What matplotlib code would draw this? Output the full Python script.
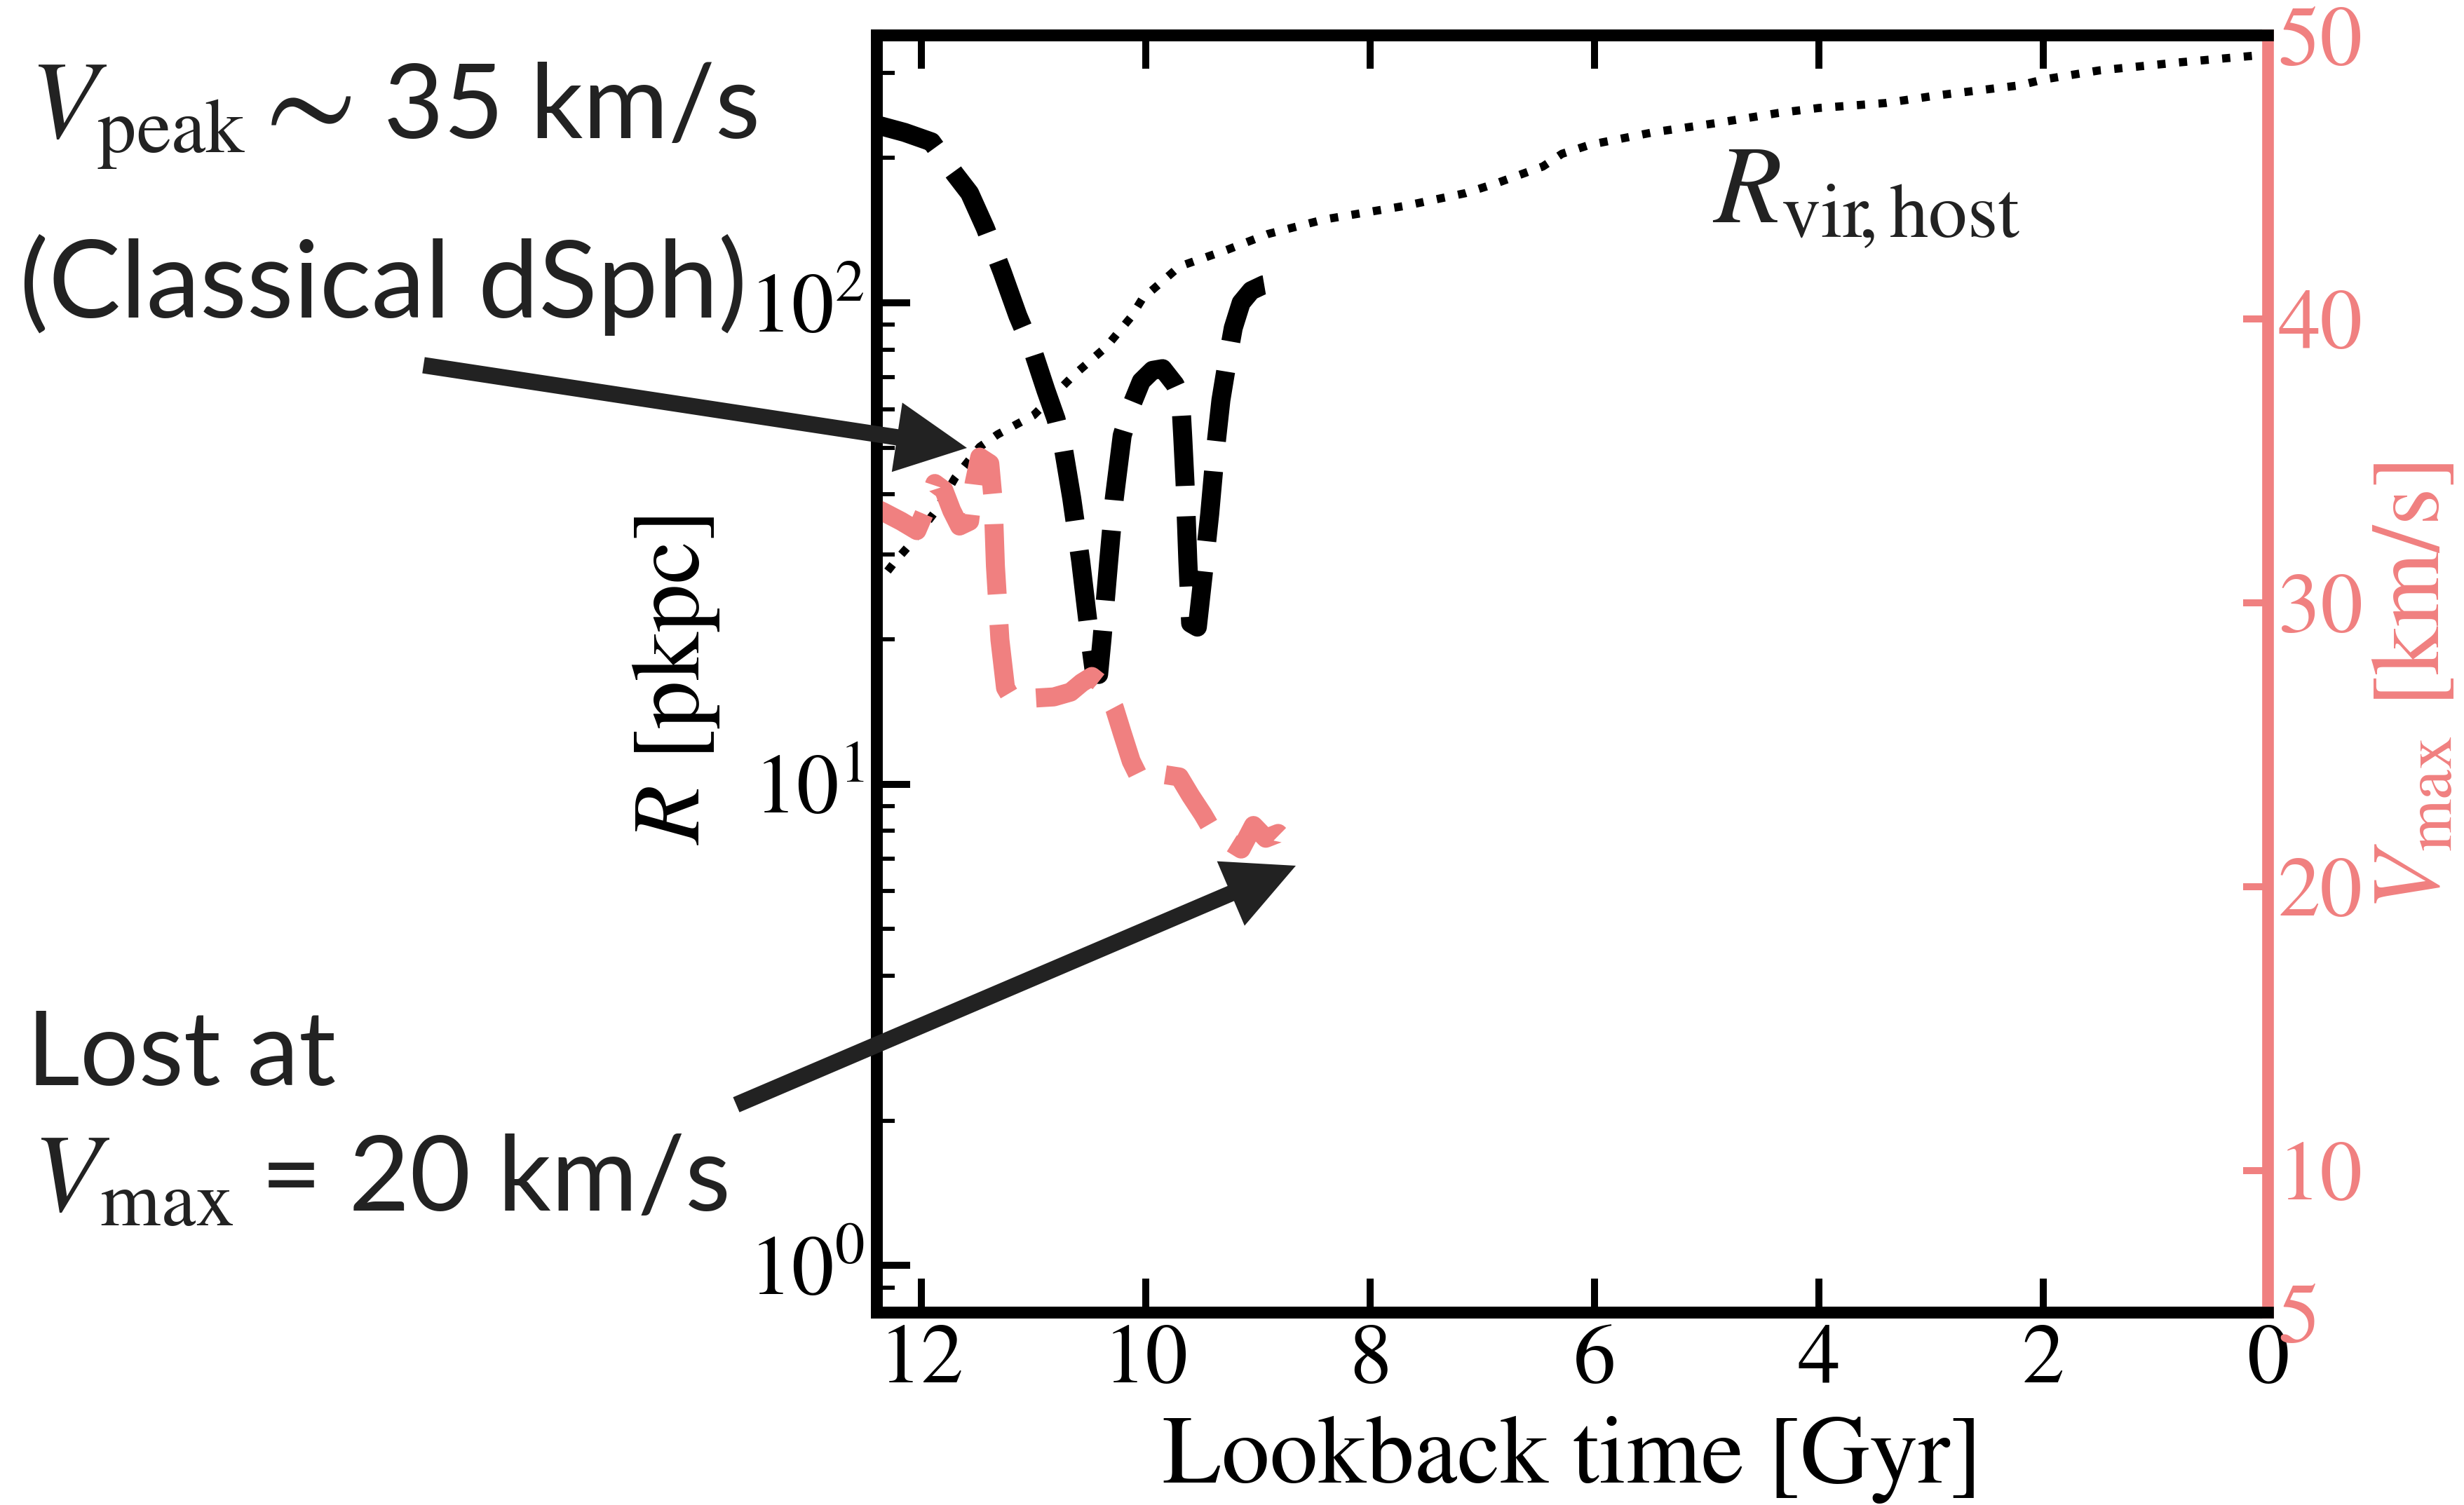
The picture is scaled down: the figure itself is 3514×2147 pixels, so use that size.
import matplotlib
matplotlib.use("Agg")
import matplotlib.pyplot as plt
from matplotlib.patches import FancyArrowPatch, ArrowStyle
from matplotlib.ticker import LogLocator, NullLocator, NullFormatter, FixedLocator

plt.rcParams["font.family"] = "STIXGeneral"
plt.rcParams["mathtext.fontset"] = "stix"

# ---------------- data ----------------
# Host virial radius [pkpc] vs lookback time [Gyr]
t_host = [12.45, 12.34, 12.23, 12.11, 11.87, 11.70, 11.48, 11.32, 11.00, 10.64,
          10.35, 10.13, 10.03, 9.70, 9.27, 8.91, 8.41, 7.69, 7.15, 6.88, 6.46,
          6.29, 6.04, 5.48, 4.93, 4.36, 4.00, 3.41, 2.93, 2.21, 2.00, 1.50,
          0.78, 0.0]
r_host = [26.0, 27.0, 29.1, 31.3, 37.0, 43.3, 50.2, 53.3, 58.4, 70.8,
          81.1, 93.5, 102, 119, 129, 139, 149, 159, 169, 177, 192,
          204, 213, 226, 236, 248, 254, 260, 270, 283, 291, 304,
          316, 328]

# Satellite distance from the host [pkpc]
t_sat = [12.45, 12.36, 12.15, 11.91, 11.70, 11.57, 11.43, 11.28, 11.14, 11.00,
         10.89, 10.80, 10.73, 10.66, 10.58, 10.53, 10.49, 10.46, 10.42, 10.39,
         10.33, 10.28, 10.21, 10.13, 10.04, 9.94, 9.85, 9.74, 9.69, 9.67,
         9.65, 9.625, 9.60, 9.54, 9.49, 9.43, 9.38, 9.33, 9.27, 9.22,
         9.15, 9.06, 8.95, 8.85, 8.77]
r_sat = [236, 233, 226, 216, 185, 169, 143, 116, 94, 78.7,
         65.8, 57.4, 49.2, 39.3, 29.1, 23.2, 19.4, 17.2, 16.9, 20.0,
         29.1, 39.3, 53.0, 61.0, 68.7, 72.4, 73.0, 67.7, 63.8, 52.5,
         42.3, 29.1, 21.6, 21.2, 27.0, 36.4, 49.2, 62.8, 76.4, 88.7,
         100, 106, 109, 110, 110]

# Satellite Vmax [km/s]
t_vmax = [12.45, 12.34, 12.18, 12.04, 11.95, 11.88, 11.80, 11.73, 11.66, 11.57,
          11.53, 11.48, 11.39, 11.36, 11.34, 11.30, 11.25, 11.19, 11.03, 10.82,
          10.67, 10.57, 10.48, 10.39, 10.28, 10.21, 10.13, 10.06, 9.88, 9.70,
          9.60, 9.49, 9.40, 9.15, 9.04, 8.93, 8.82, 8.72]
vmax = [33.4, 33.2, 32.87, 32.54, 33.37, 34.2, 33.97, 33.25, 32.7, 32.87,
        34.2, 35.13, 34.9, 33.6, 31.3, 28.7, 27.0, 26.6, 26.63, 26.68,
        26.85, 27.18, 27.4, 27.12, 26.3, 25.41, 24.42, 23.86, 23.97, 23.86,
        23.2, 22.54, 21.93, 21.32, 22.15, 21.7, 21.87, 21.48]

x_ticks = [12, 10, 8, 6, 4, 2, 0]
v_ticks = [5, 10, 20, 30, 40, 50]

# ---------------- figure ----------------
W, H, DPI = 3514, 2147, 300
fig = plt.figure(figsize=(W / DPI, H / DPI), dpi=DPI)


def px(x, y):
    """Pixel position (from top-left) to figure fraction."""
    return x / W, 1 - y / H


SALMON = "lightcoral"
INK = "#222222"

ax = fig.add_axes([1250 / W, 1 - 1872 / H, (3234 - 1250) / W, (1872 - 50) / H])
ax.set_yscale("log")
ax.plot(t_host, r_host, ls=":", lw=2.8, color="k")
ax.plot(t_sat, r_sat, ls="--", lw=6.5, color="k")
ax.set_xlim(12.4, 0)
ax.set_ylim(0.8, 360)
ax.set_xticks(x_ticks)
ax.xaxis.set_minor_locator(NullLocator())
ax.yaxis.set_major_locator(LogLocator(base=10, numticks=10))
ax.yaxis.set_minor_locator(LogLocator(base=10, subs=range(2, 10), numticks=20))
ax.yaxis.set_minor_formatter(NullFormatter())

ax.tick_params(axis="both", which="major", direction="in", length=11.5, width=2.4,
               labelsize=29, top=True, right=False, pad=4)
ax.tick_params(axis="y", which="minor", direction="in", length=6.2, width=1.4,
               right=False)
for s in ax.spines.values():
    s.set_linewidth(4)
ax.spines["right"].set_visible(False)

ax.text(4.95, 147, r"$R_{\rm vir\!,host}$", fontsize=38, color=INK,
        ha="left", va="baseline")

ax.set_xlabel("Lookback time [Gyr]", fontsize=33)
ax.xaxis.set_label_coords(0.5, -0.081)
ax.set_ylabel(r"$R$ [pkpc]", fontsize=33)
ax.yaxis.set_label_coords(-0.1114, 0.495)

ax2 = ax.twinx()
ax2.plot(t_vmax, vmax, ls="--", lw=6.5, color=SALMON)
ax2.set_ylim(5, 50)
ax2.yaxis.set_major_locator(FixedLocator(v_ticks))
ax2.yaxis.set_minor_locator(NullLocator())
ax2.tick_params(axis="y", which="major", direction="in", length=8.5, width=2.4,
                labelsize=29, color=SALMON, labelcolor=SALMON, pad=3.5)
for s in ax2.spines.values():
    s.set_linewidth(4)
ax2.spines["right"].set_color(SALMON)
ax2.set_ylabel(r"$V_{\rm max}$ [km/s]", fontsize=33, color=SALMON)
ax2.yaxis.set_label_coords(1.075, 0.49)

# ---------------- annotations ----------------
SANS = ["Lato", "DejaVu Sans"]
fig.text(*px(42, 197), r"$V_{\rm peak}$", fontsize=38, color=INK,
         ha="left", va="baseline")
fig.text(*px(350, 205), r"$\sim$", fontsize=46, color=INK,
         ha="left", va="baseline")
fig.text(*px(547, 197), "35 km/s", fontsize=35.5, color=INK, family=SANS,
         ha="left", va="baseline")
fig.text(*px(28, 453), "(Classical dSph)", fontsize=37, color=INK, family=SANS,
         ha="left", va="baseline")
fig.text(*px(38, 1548), "Lost at", fontsize=35.5, color=INK, family=SANS,
         ha="left", va="baseline")
fig.text(*px(46, 1727), r"$V_{\rm max}$", fontsize=38, color=INK,
         ha="left", va="baseline")
fig.text(*px(372, 1727), "= 20 km/s", fontsize=36, color=INK, family=SANS,
         ha="left", va="baseline")

arrow_style = ArrowStyle.Simple(head_length=24.2, head_width=24, tail_width=5.6)
for tail, tip in [((604, 521), (1379, 639)), ((1050, 1576), (1848, 1235))]:
    fig.add_artist(FancyArrowPatch(px(*tail), px(*tip), transform=fig.transFigure,
                                   arrowstyle=arrow_style, mutation_scale=1,
                                   color=INK, lw=0, shrinkA=0, shrinkB=0))

fig.savefig("out.png", dpi=DPI)
